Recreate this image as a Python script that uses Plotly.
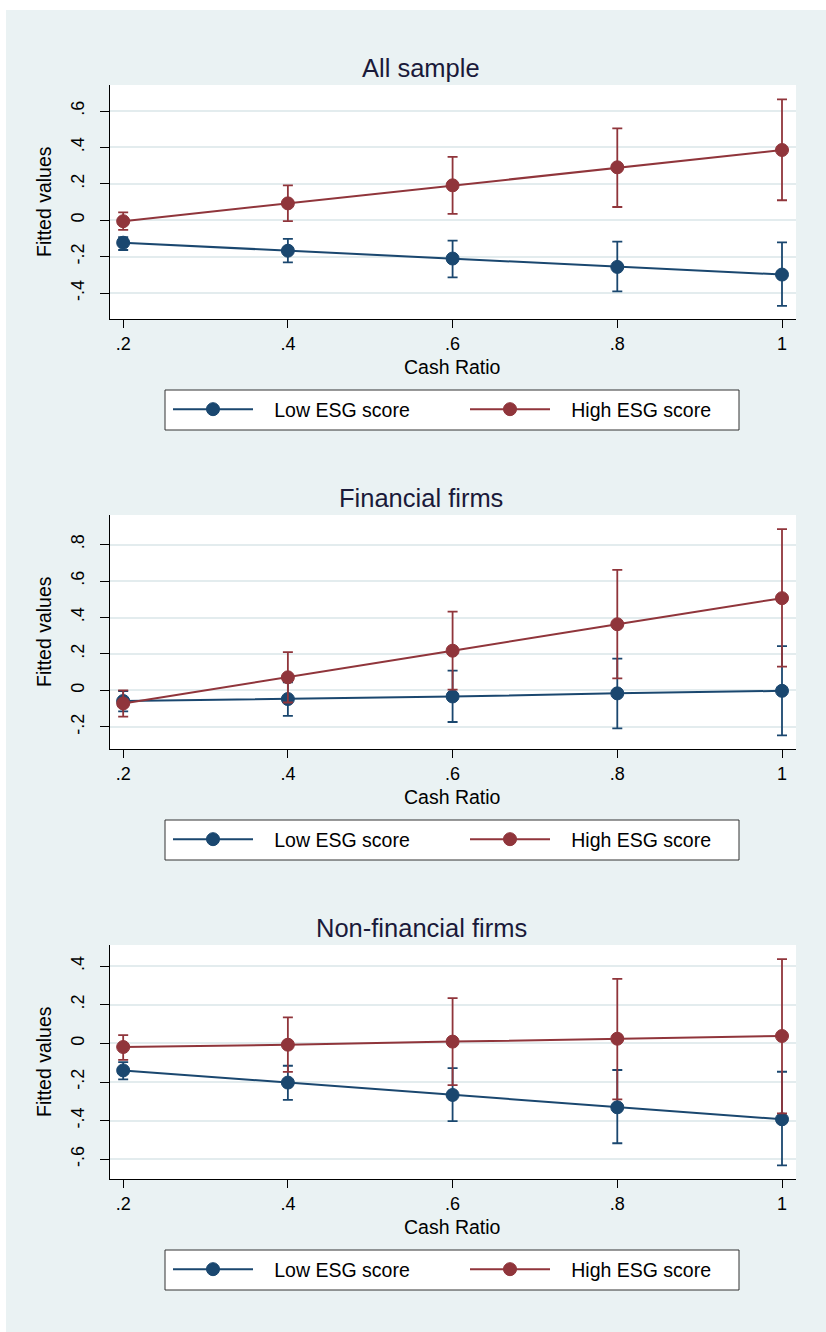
import plotly.graph_objects as go

# ---------------- data ----------------
x_vals = [0.2, 0.4, 0.6, 0.8, 1.0]
x_tick_labels = [".2", ".4", ".6", ".8", "1"]
panel_titles = ["All sample", "Financial firms", "Non-financial firms"]
series_names = ["Low ESG score", "High ESG score"]

# All sample
all_low = [-0.123, -0.167, -0.210, -0.256, -0.298]
all_low_hi = [-0.093, -0.102, -0.112, -0.117, -0.121]
all_low_lo = [-0.163, -0.231, -0.313, -0.390, -0.470]
all_high = [-0.005, 0.093, 0.192, 0.291, 0.386]
all_high_hi = [0.044, 0.192, 0.348, 0.505, 0.664]
all_high_lo = [-0.053, -0.005, 0.035, 0.073, 0.110]

# Financial firms
fin_low = [-0.058, -0.047, -0.033, -0.016, -0.002]
fin_low_hi = [-0.003, 0.045, 0.109, 0.175, 0.243]
fin_low_lo = [-0.115, -0.139, -0.173, -0.208, -0.246]
fin_high = [-0.071, 0.072, 0.218, 0.363, 0.506]
fin_high_hi = [0.000, 0.210, 0.432, 0.661, 0.885]
fin_high_lo = [-0.144, -0.066, 0.004, 0.066, 0.131]

# Non-financial firms
non_low = [-0.140, -0.203, -0.267, -0.331, -0.393]
non_low_hi = [-0.097, -0.116, -0.128, -0.138, -0.147]
non_low_lo = [-0.186, -0.293, -0.403, -0.517, -0.632]
non_high = [-0.019, -0.007, 0.009, 0.024, 0.038]
non_high_hi = [0.043, 0.134, 0.234, 0.334, 0.436]
non_high_lo = [-0.086, -0.148, -0.216, -0.290, -0.362]

# y tick values / labels per panel
y_ticks_all = [-0.4, -0.2, 0.0, 0.2, 0.4, 0.6]
y_labels_all = ["-.4", "-.2", "0", ".2", ".4", ".6"]
y_ticks_fin = [-0.2, 0.0, 0.2, 0.4, 0.6, 0.8]
y_labels_fin = ["-.2", "0", ".2", ".4", ".6", ".8"]
y_ticks_non = [-0.6, -0.4, -0.2, 0.0, 0.2, 0.4]
y_labels_non = ["-.6", "-.4", "-.2", "0", ".2", ".4"]

# ---------------- styling / layout ----------------
W, H = 826, 1332
BLUE = "#1a476f"
RED = "#90353b"
BG = "#eaf2f3"
GRID = "#e3ecee"
FONT = "Liberation Sans, Arial, sans-serif"
NB = "\u00a0\u00a0\u00a0"  # spacing between legend key and label

panels = [
    dict(title=panel_titles[0], low=all_low, low_hi=all_low_hi, low_lo=all_low_lo,
         high=all_high, high_hi=all_high_hi, high_lo=all_high_lo,
         yt=y_ticks_all, yl=y_labels_all, yr=[-0.542, 0.743], top=85),
    dict(title=panel_titles[1], low=fin_low, low_hi=fin_low_hi, low_lo=fin_low_lo,
         high=fin_high, high_hi=fin_high_hi, high_lo=fin_high_lo,
         yt=y_ticks_fin, yl=y_labels_fin, yr=[-0.321, 0.962], top=515),
    dict(title=panel_titles[2], low=non_low, low_hi=non_low_hi, low_lo=non_low_lo,
         high=non_high, high_hi=non_high_hi, high_lo=non_high_lo,
         yt=y_ticks_non, yl=y_labels_non, yr=[-0.702, 0.509], top=945),
]
PLOT_H = 234
X_LEFT, X_RIGHT = 110, 796

fig = go.Figure()
annotations = []
shapes = [
    dict(type="rect", xref="paper", yref="paper", x0=0, x1=1,
         y0=1 - 10 / H, y1=1, fillcolor="white", line=dict(width=0)),
    dict(type="rect", xref="paper", yref="paper", x0=0, x1=6 / W,
         y0=0, y1=1, fillcolor="white", line=dict(width=0)),
]
layout_upd = {}

for i, p in enumerate(panels):
    n = "" if i == 0 else str(i + 1)
    xa, ya = "x" + n, "y" + n
    leg = "legend" + n
    for name, y, hi, lo, col in [
        (series_names[0], p["low"], p["low_hi"], p["low_lo"], BLUE),
        (series_names[1], p["high"], p["high_hi"], p["high_lo"], RED),
    ]:
        fig.add_trace(go.Scatter(
            x=x_vals, y=y, name=NB + name, mode="lines+markers",
            xaxis=xa, yaxis=ya, legend=leg, showlegend=True,
            line=dict(color=col, width=2),
            marker=dict(color=col, size=13, line=dict(color=col, width=1)),
            error_y=dict(type="data", symmetric=False,
                         array=[h - v for h, v in zip(hi, y)],
                         arrayminus=[v - l for v, l in zip(y, lo)],
                         color=col, thickness=1.8, width=5),
        ))
    top = p["top"]
    bottom = top + PLOT_H
    ydom = [1 - bottom / H, 1 - top / H]
    layout_upd["xaxis" + n] = dict(
        domain=[X_LEFT / W, X_RIGHT / W], range=[0.184, 1.017], anchor=ya,
        tickvals=x_vals, ticktext=x_tick_labels, ticks="outside", ticklen=8,
        tickcolor="black", showline=True, linecolor="black", linewidth=1,
        showgrid=False, zeroline=False,
        tickfont=dict(family=FONT, size=18, color="black"),
    )
    layout_upd["yaxis" + n] = dict(
        domain=ydom, range=p["yr"], anchor=xa,
        tickvals=p["yt"], ticktext=p["yl"], ticks="outside", ticklen=9,
        tickcolor="black", showline=True, linecolor="black", linewidth=1,
        showgrid=True, gridcolor=GRID, gridwidth=1.5, zeroline=False,
        tickangle=-90, ticklabelstandoff=9,
        tickfont=dict(family=FONT, size=18, color="black"),
    )
    # legend frame
    shapes.append(dict(
        type="rect", xref="paper", yref="paper", layer="below",
        x0=165 / W, x1=739 / W, y0=1 - (top + 345) / H, y1=1 - (top + 305) / H,
        fillcolor="white", line=dict(color="#333333", width=1),
    ))
    layout_upd[leg] = dict(
        x=168 / W, xanchor="left", y=1 - (top + 305) / H, yanchor="top",
        orientation="h", bgcolor="rgba(0,0,0,0)", borderwidth=0,
        font=dict(family=FONT, size=19.5, color="black"),
        itemwidth=80, entrywidth=202, traceorder="normal",
    )
    # panel title
    annotations.append(dict(
        text=p["title"], xref="paper", yref="paper", x=421 / W, y=1 - (top - 17) / H,
        xanchor="center", yanchor="middle", showarrow=False,
        font=dict(family=FONT, size=25.5, color="#1a1a3a"),
    ))
    # axis titles
    annotations.append(dict(
        text="Cash Ratio", xref="paper", yref="paper", x=(X_LEFT + X_RIGHT) / 2 / W,
        y=1 - (bottom + 48) / H, xanchor="center", yanchor="middle", showarrow=False,
        font=dict(family=FONT, size=19.5, color="black"),
    ))
    annotations.append(dict(
        text="Fitted values", xref="paper", yref="paper", x=44 / W,
        y=1 - (top + PLOT_H / 2) / H, xanchor="center", yanchor="middle",
        showarrow=False, textangle=-90,
        font=dict(family=FONT, size=19.5, color="black"),
    ))

fig.update_layout(
    width=W, height=H, margin=dict(l=0, r=0, t=0, b=0),
    paper_bgcolor=BG, plot_bgcolor="white",
    annotations=annotations,
    shapes=shapes,
    **layout_upd,
)

fig.write_html("out.html", config={"displayModeBar": False},
               post_script="document.body.style.margin='0px';")
